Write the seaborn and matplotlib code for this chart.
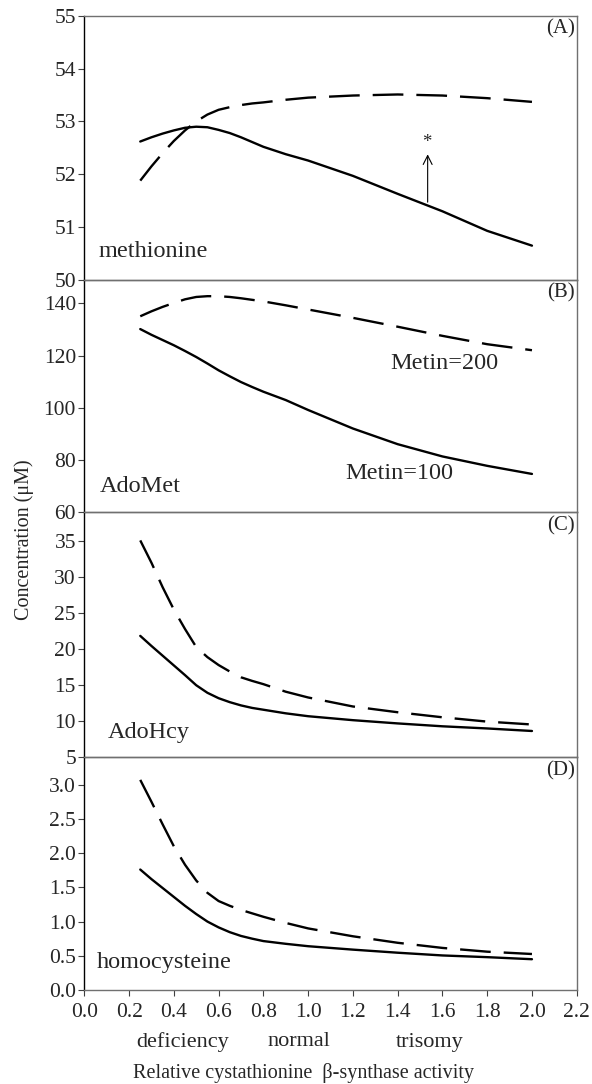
import numpy as np
import pandas as pd
import seaborn as sns
import matplotlib
matplotlib.use("Agg")
import matplotlib.pyplot as plt

# relative CBS activity (x) and model concentrations
cbs = [0.25, 0.3, 0.35, 0.4, 0.45, 0.5, 0.55, 0.6, 0.65, 0.7, 0.75, 0.8, 0.9, 1.0,
       1.2, 1.4, 1.6, 1.8, 2.0]

met_100 = [52.62, 52.70, 52.77, 52.83, 52.88, 52.90, 52.89, 52.84, 52.78, 52.70, 52.61,
           52.52, 52.38, 52.26, 51.97, 51.63, 51.30, 50.93, 50.65]
met_200 = [51.88, 52.15, 52.40, 52.63, 52.83, 53.00, 53.13, 53.22, 53.27, 53.31, 53.34,
           53.36, 53.41, 53.45, 53.49, 53.51, 53.49, 53.44, 53.37]

adomet_100 = [130.2, 128.0, 126.0, 124.0, 121.8, 119.5, 117.0, 114.4, 112.1, 109.9, 108.0,
              106.2, 103.0, 99.2, 92.1, 86.1, 81.4, 77.8, 74.7]
adomet_200 = [135.1, 137.0, 138.7, 140.2, 141.6, 142.5, 142.8, 142.8, 142.5, 142.0, 141.4,
              140.8, 139.3, 137.7, 134.5, 131.1, 127.6, 124.4, 122.1]

adohcy_100 = [21.85, 20.45, 19.1, 17.75, 16.4, 15.0, 13.95, 13.2, 12.65, 12.2, 11.85,
              11.6, 11.1, 10.7, 10.15, 9.7, 9.3, 9.0, 8.65]
adohcy_200 = [35.1, 32.0, 28.6, 25.5, 22.8, 20.3, 18.9, 17.8, 16.9, 16.1, 15.6,
              15.15, 14.1, 13.3, 12.05, 11.25, 10.55, 9.95, 9.55]

hcy_100 = [1.76, 1.62, 1.49, 1.36, 1.23, 1.11, 1.0, 0.915, 0.845, 0.79, 0.75,
           0.715, 0.675, 0.64, 0.59, 0.545, 0.505, 0.48, 0.45]
hcy_200 = [3.07, 2.75, 2.42, 2.10, 1.83, 1.60, 1.42, 1.30, 1.23, 1.17, 1.12,
           1.07, 0.98, 0.90, 0.785, 0.69, 0.615, 0.56, 0.526]

panel_names = ["methionine", "AdoMet", "AdoHcy", "homocysteine"]
panel_tags = ["(A)", "(B)", "(C)", "(D)"]
x_ticks = [0.0, 0.2, 0.4, 0.6, 0.8, 1.0, 1.2, 1.4, 1.6, 1.8, 2.0, 2.2]
state_labels = ["deficiency", "normal", "trisomy"]
state_pos = [0.44, 0.96, 1.545]

sns.set_style("white")
plt.rcParams["font.family"] = ["Liberation Serif", "DejaVu Serif"]

fig = plt.figure(figsize=(5.92, 10.84), dpi=100)

left, width = 0.1424, 0.8318
boxes = [(0.7417, 0.2438), (0.5274, 0.2143), (0.3014, 0.2260), (0.0867, 0.2147)]
ylims = [(50, 55), (60, 149), (5, 39), (0, 3.4)]
yticks = [np.arange(50, 56, 1), np.arange(60, 141, 20), np.arange(5, 36, 5), np.arange(0, 3.01, 0.5)]
series = [(met_100, met_200), (adomet_100, adomet_200), (adohcy_100, adohcy_200), (hcy_100, hcy_200)]
name_pos = [(0.062, 50.54), (0.07, 70), (0.107, 8.4), (0.055, 0.40)]

axes = []
for i in range(4):
    ax = fig.add_axes([left, boxes[i][0], width, boxes[i][1]])
    s100, s200 = series[i]
    df = pd.DataFrame({"x": cbs, "Metin=100": s100, "Metin=200": s200})
    sns.lineplot(data=df, x="x", y="Metin=100", ax=ax, color="black", lw=1.7)
    sns.lineplot(data=df, x="x", y="Metin=200", ax=ax, color="black", lw=1.7,
                 linestyle=(0, (13, 5.5)))
    ax.set_xlim(0, 2.2)
    ax.set_ylim(*ylims[i])
    ax.set_yticks(yticks[i])
    if i == 3:
        ax.set_yticklabels([f"{v:.1f}" for v in yticks[i]])
    else:
        ax.set_yticklabels([f"{int(v)}" for v in yticks[i]])
    ax.set_xticks(x_ticks)
    if i == 3:
        ax.set_xticklabels([f"{v:.1f}" for v in x_ticks])
        ax.tick_params(axis="x", bottom=True, length=4, width=0.8, color="#404040",
                       labelsize=15.5, pad=5)
    else:
        ax.tick_params(axis="x", bottom=False, labelbottom=False)
    ax.tick_params(axis="y", left=True, length=4, width=0.8, color="#404040",
                   labelsize=15.5, pad=2)
    ax.set_xlabel("")
    ax.set_ylabel("")
    for side in ["top", "right", "bottom"]:
        ax.spines[side].set_color("#707070")
        ax.spines[side].set_linewidth(1.0)
    ax.spines["left"].set_color("black")
    ax.spines["left"].set_linewidth(1.0)
    ax.text(name_pos[i][0], name_pos[i][1], panel_names[i], fontsize=17.5, ha="left",
            va="center")
    ax.text(0.997, 0.985, panel_tags[i], transform=ax.transAxes, fontsize=15,
            ha="right", va="top")
    ax.patch.set_alpha(0)
    axes.append(ax)

# arrow and asterisk in panel A
axes[0].annotate("", xy=(1.534, 52.43), xytext=(1.534, 51.42),
                 arrowprops=dict(arrowstyle="->", lw=0.8, color="black",
                                 mutation_scale=16))
axes[0].text(1.53, 52.6, "*", fontsize=13.5, ha="center", va="center")

# series labels in panel B
axes[1].text(1.366, 117, "Metin=200", fontsize=17.5, ha="left", va="center")
axes[1].text(1.164, 74.7, "Metin=100", fontsize=17.5, ha="left", va="center")

# activity states under the x axis
for lab, xp in zip(state_labels, state_pos):
    fig.text((84.3 + xp * 223.8) / 592, 1 - 1042 / 1084, lab, fontsize=16,
             ha="center", va="center")

fig.text(0.513, 1 - 1073 / 1084, "Relative cystathionine  \u03b2-synthase activity",
         fontsize=14.5, ha="center", va="center")
fig.text(0.040, 0.502, "Concentration (\u03bcM)", fontsize=14.5, rotation=90,
         ha="center", va="center")

fig.savefig("out.png", dpi=100)
